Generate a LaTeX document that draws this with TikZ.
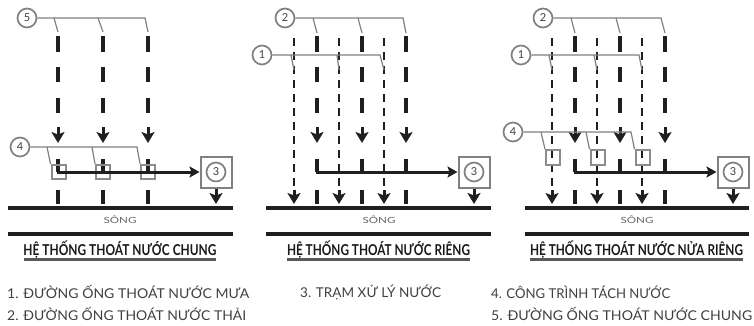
\documentclass[tikz,border=0pt]{standalone}
\usepackage{fontspec}
\setmainfont{Lato}
\usetikzlibrary{arrows.meta}
\newcommand{\fitw}[2]{\resizebox{#1pt}{\height}{#2}}
\definecolor{ink}{gray}{0.12}
\definecolor{leader}{gray}{0.5}
\tikzset{
  x=1pt,y=-1pt,
  main/.style={line width=3.2pt,ink,line cap=butt},
  rain/.style={line width=2.6pt,ink,dash pattern=on 8pt off 6pt},
  flow/.style={line width=3pt,ink,-{Stealth[length=11pt,width=13pt,inset=2.5pt]}},
  collector/.style={line width=3pt,ink,-{Stealth[length=10pt,width=11pt,inset=2pt]}},
  river/.style={line width=4.6pt,ink},
  leadline/.style={line width=1.2pt,leader},
  numc/.style={circle,draw=leader,line width=1.7pt,fill=white,minimum size=19pt,inner sep=0pt,font=\fontsize{11}{11}\selectfont,text=black!75},
  plant/.style={rectangle,draw=leader,line width=2pt,fill=white,minimum size=31pt,inner sep=0pt},
  splitter/.style={rectangle,draw=black!45,line width=2pt,minimum width=14pt,minimum height=14.5pt,inner sep=0pt},
  ttl/.style={inner sep=0pt,text=black!90,font=\bfseries\fontsize{15}{15}\selectfont},
  leg/.style={inner sep=0pt,anchor=west,text=black!75,font=\fontsize{13.5}{14}\selectfont},
  sng/.style={inner sep=0pt,text=black!60,font=\fontsize{8.5}{9}\selectfont},
  uline/.style={line width=2.2pt,black!65}
}
\newcommand{\maincol}[1]{%
  \draw[main] (#1,36) -- (#1,52);
  \draw[main] (#1,67) -- (#1,82);
  \draw[main] (#1,98) -- (#1,113);
  \draw[flow] (#1,127) -- (#1,143);
  \draw[main] (#1,190) -- (#1,204);
}
\newcommand{\rainpipe}[1]{%
  \draw[rain] (#1,38) -- (#1,190);
  \draw[flow] (#1,190) -- (#1,204);
}
\begin{document}
\begin{tikzpicture}
\useasboundingbox (0,0) rectangle (754,325);
% ---- Panel 1
\foreach \c in {58,103,148}{\maincol{\c}\draw[main] (\c,159) -- (\c,172);}
\node[splitter] (s11) at (58.5,172) {};
\node[splitter] (s12) at (103,172) {};
\node[splitter] (s13) at (148,172) {};
\node[plant] (p1) at (216,172) {};
\node[numc] (p1n) at (216,172) {3};
\coordinate (c1) at (56.5,172);
\draw[collector] (c1) -- (p1.west);
\coordinate (r1t) at (216,204);
\draw[flow] (p1.south) -- (r1t);
\draw[river] (8,208) -- (233,208);
\draw[river] (8,234) -- (233,234);
\node[sng] (sg1) at (120,219.5) {\fitw{33}{SÔNG}};
\node[numc] (n5) at (27,18) {5};
\coordinate (a1) at (58,32);\coordinate (a2) at (103,32);\coordinate (a3) at (148,32);
\draw[leadline] (n5) -- (145,18) -- (a3);
\draw[leadline] (54,18) -- (a1);
\draw[leadline] (98,18) -- (a2);
\node[numc] (n41) at (20,147) {4};
\draw[leadline] (n41) -- (137,147) -- (s13.north west);
\draw[leadline] (47,147) -- (s11.north west);
\draw[leadline] (92,147) -- (s12.north west);
\node[ttl] (t1) at (120,250) {\fitw{193}{HỆ THỐNG THOÁT NƯỚC CHUNG}};
\draw[uline] (24,259.5) -- (216,259.5);
% ---- Panel 2
\foreach \c in {294,339,384}{\rainpipe{\c}}
\foreach \c in {317,362,406}{\maincol{\c}\draw[main] (\c,159) -- (\c,172);}
\node[plant] (p2) at (474,172) {};
\node[numc] (p2n) at (474,172) {3};
\coordinate (c2) at (315.5,172);
\draw[collector] (c2) -- (p2.west);
\coordinate (r2t) at (474,204);
\draw[flow] (p2.south) -- (r2t);
\draw[river] (266,208) -- (491,208);
\draw[river] (266,234) -- (491,234);
\node[sng] (sg2) at (379,219.5) {\fitw{33}{SÔNG}};
\node[numc] (n21) at (285,18) {2};
\coordinate (b1) at (317,33);\coordinate (b2) at (362,33);\coordinate (b3) at (406,33);
\draw[leadline] (n21) -- (403,18) -- (b3);
\draw[leadline] (313,18) -- (b1);
\draw[leadline] (358,18) -- (b2);
\node[numc] (n11) at (262,55) {1};
\coordinate (d1) at (294,70);\coordinate (d2) at (339,70);\coordinate (d3) at (384,70);
\draw[leadline] (n11) -- (380,55) -- (d3);
\draw[leadline] (291,55) -- (d1);
\draw[leadline] (337,55) -- (d2);
\node[ttl] (t2) at (378.5,250) {\fitw{183}{HỆ THỐNG THOÁT NƯỚC RIÊNG}};
\draw[uline] (287,259.5) -- (470,259.5);
% ---- Panel 3
\foreach \c in {552,597,642}{\rainpipe{\c}}
\foreach \c in {575,620,665}{\maincol{\c}\draw[main] (\c,159) -- (\c,172);}
\node[splitter] (s31) at (553,157.5) {};
\node[splitter] (s32) at (597.5,157.5) {};
\node[splitter] (s33) at (642.5,157.5) {};
\node[plant] (p3) at (733,172) {};
\node[numc] (p3n) at (733,172) {3};
\coordinate (c3) at (573.5,172);
\draw[collector] (c3) -- (p3.west);
\coordinate (r3t) at (733,204);
\draw[flow] (p3.south) -- (r3t);
\draw[river] (525,208) -- (749,208);
\draw[river] (525,234) -- (749,234);
\node[sng] (sg3) at (637,219.5) {\fitw{33}{SÔNG}};
\node[numc] (n22) at (543,18) {2};
\coordinate (e1) at (575,33);\coordinate (e2) at (620,33);\coordinate (e3) at (665,33);
\draw[leadline] (n22) -- (661,18) -- (e3);
\draw[leadline] (571,18) -- (e1);
\draw[leadline] (616,18) -- (e2);
\node[numc] (n12) at (521,55) {1};
\coordinate (f1) at (552,70);\coordinate (f2) at (597,70);\coordinate (f3) at (642,70);
\draw[leadline] (n12) -- (639,55) -- (f3);
\draw[leadline] (549,55) -- (f1);
\draw[leadline] (594,55) -- (f2);
\node[numc] (n42) at (513,132) {4};
\draw[leadline] (n42) -- (631,132) -- (s33.north west);
\draw[leadline] (541,132) -- (s31.north west);
\draw[leadline] (586,132) -- (s32.north west);
\node[ttl] (t3) at (636.5,250) {\fitw{213}{HỆ THỐNG THOÁT NƯỚC NỬA RIÊNG}};
\draw[uline] (530,259.5) -- (743,259.5);
% ---- Legend
\node[leg] (l1) at (7,292) {\fitw{242}{1. ĐƯỜNG ỐNG THOÁT NƯỚC MƯA}};
\node[leg] (l2) at (7,313.5) {\fitw{239}{2. ĐƯỜNG ỐNG THOÁT NƯỚC THẢI}};
\node[leg] (l3) at (300,292) {\fitw{141}{3. TRẠM XỬ LÝ NƯỚC}};
\node[leg] (l4) at (491,292) {\fitw{179}{4. CÔNG TRÌNH TÁCH NƯỚC}};
\node[leg] (l5) at (491,313.5) {\fitw{261}{5. ĐƯỜNG ỐNG THOÁT NƯỚC CHUNG}};
\end{tikzpicture}
\end{document}
